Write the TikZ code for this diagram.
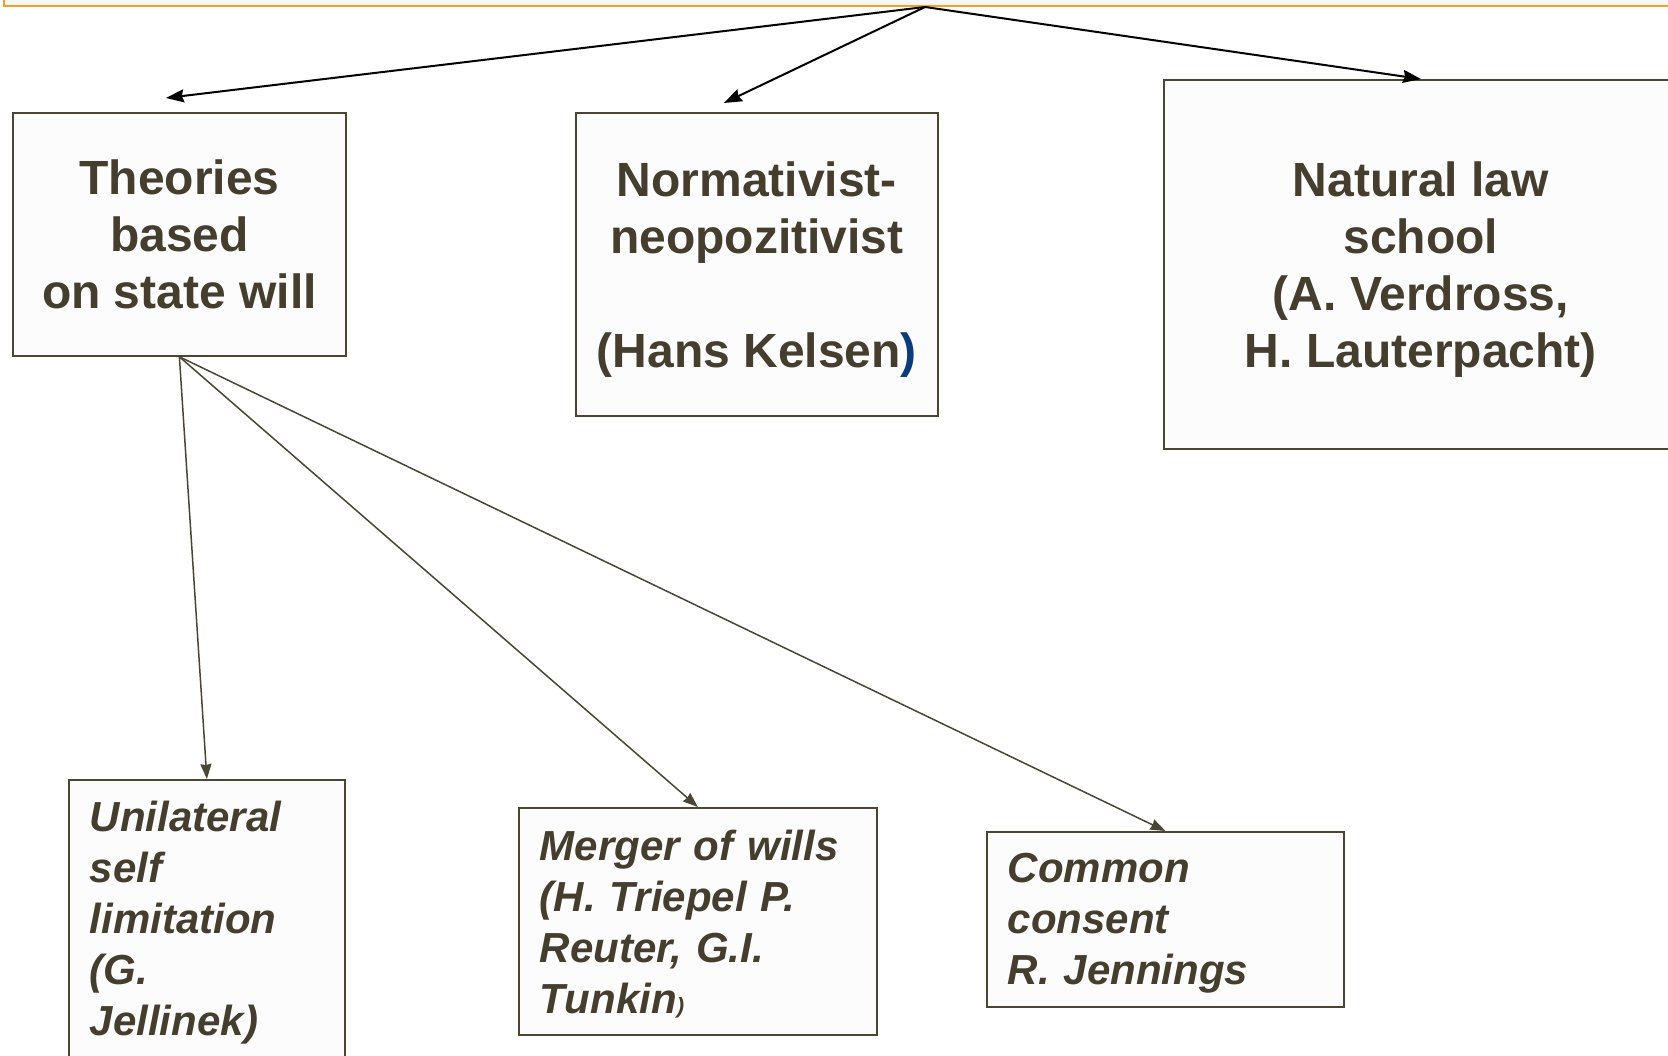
\documentclass[tikz,border=0pt]{standalone}
\usepackage{fontspec}
\setmainfont{Liberation Sans}
\usepackage{xcolor}
\usetikzlibrary{arrows.meta,positioning}
\definecolor{frameorange}{HTML}{F5A21E}
\definecolor{boxline}{HTML}{4B4535}
\definecolor{inktext}{HTML}{453D2E}
\definecolor{kelsenblue}{HTML}{0B3C78}
\definecolor{boxfill}{HTML}{FCFCFC}
\tikzset{
  headbox/.style={ draw=frameorange, line width=1pt, fill=black!3, minimum width=900pt, minimum height=30pt, anchor=south west }
}
\tikzset{
  schoolbox/.style={ draw=boxline, line width=0.9pt, fill=boxfill, text=inktext, align=center, anchor=north west, inner sep=0pt, font=\bfseries\fontsize{24}{28.5}\selectfont }
}
\tikzset{
  variantbox/.style={ draw=boxline, line width=0.9pt, fill=boxfill, text=inktext, align=left, anchor=north west, inner xsep=10.5pt, inner ysep=0pt, font=\bfseries\itshape\fontsize{21}{25.5}\selectfont }
}
\tikzset{
  mainarrow/.style={ black, line width=1pt, -{Stealth[length=9pt,width=6.5pt,inset=1pt]} }
}
\tikzset{
  subarrow/.style={ boxline, line width=0.75pt, -{Stealth[length=7.5pt,width=5.5pt,inset=0.5pt]} }
}
% lifts the first line so the block sits a little lower
\newcommand{\lift}[1]{\rule{0pt}{#1}}

\begin{document}
\begin{tikzpicture}[x=0.5pt, y=-0.5pt]
      \useasboundingbox (0,0) rectangle (1668,1055);
      \fill[white] (0,0) rectangle (1668,1055);

      \node[headbox] (head) at (3,7) {};
      \coordinate (hub) at (925,7);

      \node[schoolbox, minimum width=166.5pt, minimum height=121.5pt] (theories) at (12,112)
        {Theories\\based\\on state will};
      \node[schoolbox, minimum width=181pt, minimum height=151.5pt] (normat) at (575,112)
        {\lift{22.5pt}Normativist-\\neopozitivist\\[28.5pt](Hans Kelsen\textcolor{kelsenblue}{)}};
      \node[schoolbox, minimum width=257pt, minimum height=184.5pt] (natural) at (1163,79)
        {\lift{22.5pt}Natural law\\school\\(A. Verdross,\\H. Lauterpacht)};

      \node[variantbox, text width=117pt, minimum height=139pt] (unil) at (68,779)
        {\lift{18.5pt}Unilateral\\self\\limitation\\(G.\\Jellinek)};
      \node[variantbox, text width=158pt, minimum height=113.5pt] (merger) at (518,807)
        {\lift{17.5pt}Merger of wills\\(H. Triepel P.\\Reuter, G.I.\\Tunkin{\fontsize{11}{11}\selectfont)}};
      \node[variantbox, text width=157.5pt, minimum height=87.5pt] (common) at (986,831)
        {\lift{18.5pt}Common\\consent\\R. Jennings};

      \begin{scope}[mainarrow]
        \draw (hub) -- ([xshift=-6.75pt, yshift=7pt]theories.north);
        \draw (hub) -- ([xshift=-16.5pt, yshift=4.5pt]normat.north);
        \draw (hub) -- (natural.north);
      \end{scope}

      \begin{scope}[subarrow]
        \draw (theories.south) -- (unil.north);
        \draw (theories.south) -- (merger.north);
        \draw (theories.south) -- (common.north);
      \end{scope}
    \end{tikzpicture}
\end{document}
